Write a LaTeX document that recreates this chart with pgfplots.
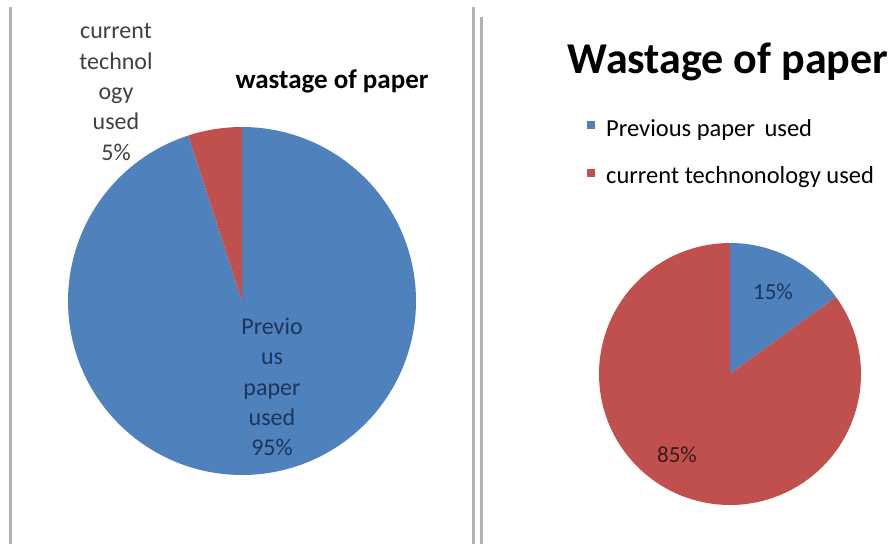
\documentclass[border=0pt]{standalone}
\usepackage{pgfplots}
\usepackage{pgfplotstable}
\pgfplotsset{compat=1.18}
\usepackage{fontspec}
\setmainfont{Carlito}
\definecolor{pieblue}{HTML}{4F81BD}
\definecolor{piered}{HTML}{C0504D}
\definecolor{navy}{HTML}{1B355C}
\definecolor{darkred}{HTML}{3A1A1A}
\definecolor{lbl}{HTML}{404040}

% left pie: wastage of paper
\pgfplotstableread{
slice value
previous 95
current 5
}\lefttable
% right pie: Wastage of paper
\pgfplotstableread{
slice value
previous 15
current 85
}\righttable

\pgfplotstablegetelem{0}{value}\of\lefttable \let\lprev\pgfplotsretval
\pgfplotstablegetelem{1}{value}\of\lefttable \let\lcur\pgfplotsretval
\pgfplotstablegetelem{0}{value}\of\righttable \let\rprev\pgfplotsretval
\pgfplotstablegetelem{1}{value}\of\righttable \let\rcur\pgfplotsretval

\pgfmathsetmacro\lsplit{90+3.6*\lcur}
\pgfmathsetmacro\lend{90+360}
\pgfmathsetmacro\rsplit{90-3.6*\rprev}
\pgfmathsetmacro\rstart{90-360}

\begin{document}
\begin{tikzpicture}
\begin{axis}[
  x=1pt, y=1pt,
  xmin=0, xmax=896, ymin=0, ymax=544,
  y dir=reverse,
  axis line style={draw=none},
  ticks=none,
  clip=false,
  legend style={draw=none, fill=none, at={(axis cs:587,118)}, anchor=north west,
    font=\fontsize{24.5}{28}\selectfont, row sep=27pt, inner sep=0pt,
    nodes={inner sep=1pt}},
  legend cell align=left,
  legend image code/.code={\fill[#1] (0pt,-1pt) rectangle (8pt,7pt); \path (0pt,0pt) (18pt,0pt);},
]
% separator lines
\addplot[forget plot, gray!60, line width=3pt] coordinates {(10.5,7) (10.5,544)};
\addplot[forget plot, gray!60, line width=3pt] coordinates {(473,7) (473,544)};
\addplot[forget plot, gray!60, line width=3pt] coordinates {(481,17) (481,544)};

% right pie (with legend)
\addplot[fill=pieblue, draw=none, domain=\rsplit:90, samples=60, variable=\t]
  ({730+131*cos(\t)}, {374-131*sin(\t)}) -- (axis cs:730,374) -- cycle;
\addlegendentry{Previous paper\, used}
\addplot[fill=piered, draw=none, domain=\rstart:\rsplit, samples=200, variable=\t]
  ({730+131*cos(\t)}, {374-131*sin(\t)}) -- (axis cs:730,374) -- cycle;
\addlegendentry{current technonology used}

% left pie
\addplot[forget plot, fill=pieblue, draw=none, domain=\lsplit:\lend, samples=200, variable=\t]
  ({242+174*cos(\t)}, {301-174*sin(\t)}) -- (axis cs:242,301) -- cycle;
\addplot[forget plot, fill=piered, draw=none, domain=90:\lsplit, samples=20, variable=\t]
  ({242+174*cos(\t)}, {301-174*sin(\t)}) -- (axis cs:242,301) -- cycle;

% titles
\node[font=\fontsize{27}{30}\selectfont\bfseries] at (axis cs:332,81) {wastage of paper};
\node[font=\fontsize{44}{48}\selectfont\bfseries] at (axis cs:728,62) {Wastage of paper};

% data labels
\node[align=center, text=lbl, font=\fontsize{24}{30.3}\selectfont] at (axis cs:116,92)
  {current\\technol\\ogy\\used\\\lcur\%};
\node[align=center, text=navy, font=\fontsize{24}{30.3}\selectfont] at (axis cs:272,387)
  {Previo\\us\\paper\\used\\\lprev\%};
\node[text=navy, font=\fontsize{23}{26}\selectfont] at (axis cs:773,292) {\rprev\%};
\node[text=darkred, font=\fontsize{23}{26}\selectfont] at (axis cs:677,455) {\rcur\%};
\end{axis}
\end{tikzpicture}
\end{document}
